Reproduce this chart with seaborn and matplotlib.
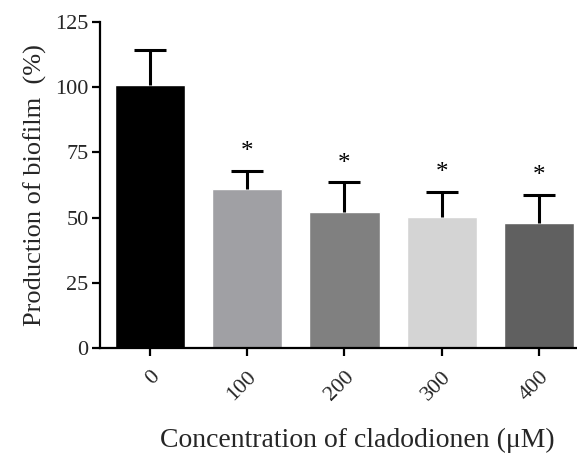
import matplotlib
matplotlib.use("Agg")
import matplotlib.pyplot as plt
import seaborn as sns
import pandas as pd

# values
concentrations = ["0", "100", "200", "300", "400"]
biofilm = [100.8, 61.0, 52.0, 50.2, 47.9]
sd = [13.5, 7.0, 11.5, 9.8, 10.7]
significant = [False, True, True, True, True]
bar_colors = ["#000000", "#a0a0a4", "#808080", "#d4d4d4", "#606060"]

df = pd.DataFrame({"conc": concentrations, "biofilm": biofilm})

sns.set_theme(style="ticks")
plt.rcParams["font.family"] = ["Liberation Serif", "DejaVu Serif"]

fig = plt.figure(figsize=(5.77, 4.58), dpi=100)
ax = fig.add_axes([0.173, 0.240, 0.827, 0.712])

sns.barplot(data=df, x="conc", y="biofilm", hue="conc", palette=bar_colors,
            width=0.72, legend=False, errorbar=None, saturation=1, ax=ax)

# upper-only error bars (hide the lower cap)
eb = ax.errorbar(range(len(biofilm)), biofilm, yerr=[[0] * len(sd), sd], fmt="none",
                 ecolor="black", elinewidth=2.2, capsize=11.5, capthick=2.2, zorder=3)
eb[1][0].set_visible(False)

# significance stars
for i, (b, s, sig) in enumerate(zip(biofilm, sd, significant)):
    if sig:
        ax.text(i, b + s + 3.0, "*", ha="center", va="bottom", fontsize=18, color="black")

ax.set_ylim(0, 125)
ax.set_yticks([0, 25, 50, 75, 100, 125])
ax.set_xlim(-0.515, 4.39)

sns.despine(ax=ax)
for side in ["left", "bottom"]:
    ax.spines[side].set_linewidth(1.6)
    ax.spines[side].set_color("black")
ax.tick_params(axis="both", width=1.6, length=6, color="black", labelsize=16, pad=2)
ax.tick_params(axis="x", pad=8)
plt.setp(ax.get_xticklabels(), rotation=45, ha="right", rotation_mode="anchor")

ax.set_xlabel("Concentration of cladodionen (μM)", fontsize=20)
ax.set_ylabel("Production of biofilm  (%)", fontsize=19, labelpad=6)
ax.xaxis.set_label_coords(0.539, -0.245)

fig.savefig("out.png", dpi=100)
